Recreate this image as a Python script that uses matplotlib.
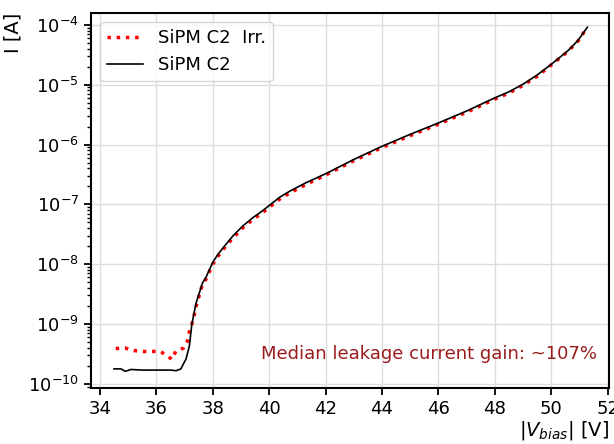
import matplotlib
matplotlib.use("Agg")
import matplotlib.pyplot as plt

# Black: SiPM C2
v_c2 = [34.5, 34.75, 34.9, 35.1, 35.5, 36.1, 36.5, 36.7, 36.87, 37.0, 37.05, 37.17,
        37.26, 37.41, 37.64, 37.76, 38.0, 38.18, 38.36, 38.71, 39.07, 39.43, 39.73, 40.0,
        40.38, 40.73, 41.3, 42.0, 43.0, 44.0, 45.0, 46.0, 47.0, 48.0, 48.5, 49.0,
        49.5, 50.0, 50.6, 50.95, 51.28]
i_c2 = [1.78e-10, 1.78e-10, 1.62e-10, 1.74e-10, 1.70e-10, 1.70e-10, 1.70e-10, 1.66e-10,
        1.78e-10, 2.34e-10, 2.57e-10, 4.27e-10, 1.0e-9, 2.24e-9, 4.9e-9, 6.03e-9, 1.07e-8,
        1.45e-8, 1.86e-8, 2.95e-8, 4.37e-8, 6.03e-8, 7.59e-8, 9.55e-8, 1.32e-7, 1.66e-7,
        2.29e-7, 3.24e-7, 5.62e-7, 9.33e-7, 1.48e-6, 2.29e-6, 3.63e-6, 6.03e-6, 7.59e-6,
        1.02e-5, 1.45e-5, 2.19e-5, 3.72e-5, 5.50e-5, 9.12e-5]

# Red: SiPM C2 Irr.
v_irr = [34.56, 34.89, 35.17, 35.48, 35.8, 36.12, 36.36, 36.55, 36.69, 36.97, 37.1, 37.17,
         37.26, 37.35, 37.43, 37.64, 37.76, 38.0, 38.18, 38.36, 38.71, 39.07, 39.43, 39.73,
         40.0, 40.38, 40.73, 41.3, 42.0, 43.0, 44.0, 45.0, 46.0, 47.0, 48.0, 48.5, 49.0,
         49.5, 50.0, 50.6, 50.95, 51.28]
i_irr = [3.89e-10, 3.98e-10, 3.63e-10, 3.47e-10, 3.47e-10, 3.51e-10, 3.02e-10, 2.57e-10,
         3.51e-10, 3.98e-10, 5.13e-10, 7.41e-10, 1.0e-9, 1.45e-9, 2.14e-9, 4.68e-9, 5.62e-9,
         1.0e-8, 1.35e-8, 1.74e-8, 2.75e-8, 4.07e-8, 5.62e-8, 7.08e-8, 8.91e-8, 1.23e-7,
         1.55e-7, 2.14e-7, 3.09e-7, 5.37e-7, 8.91e-7, 1.41e-6, 2.19e-6, 3.47e-6, 5.75e-6,
         7.24e-6, 9.77e-6, 1.38e-5, 2.14e-5, 3.63e-5, 5.37e-5, 9.12e-5]

x_ticks = [34, 36, 38, 40, 42, 44, 46, 48, 50, 52]

fig = plt.figure(figsize=(6.14, 4.44), dpi=100)
ax = fig.add_axes([0.148, 0.126, 0.844, 0.845])

ax.plot(v_irr, i_irr, color="red", linestyle=":", linewidth=2.5, label="SiPM C2  Irr.")
ax.plot(v_c2, i_c2, color="black", linestyle="-", linewidth=1.2, label="SiPM C2")

ax.set_yscale("log")
ax.set_xlim(33.68, 52.05)
ax.set_ylim(10**-10.07, 10**-3.8)
ax.set_xticks(x_ticks)
ax.grid(True, which="major", color="#dddddd", linewidth=1.0)
ax.set_axisbelow(True)

for s in ax.spines.values():
    s.set_linewidth(1.5)
ax.tick_params(axis="both", which="major", labelsize=13, width=1.3, length=5)
ax.tick_params(axis="y", which="minor", width=1.0, length=3)

ax.set_ylabel("I [A]", loc="top", fontsize=14)
ax.set_xlabel(r"$|V_{bias}|$ [V]", loc="right", fontsize=14, labelpad=1)

ax.legend(loc="upper left", fontsize=13, framealpha=0.8)
ax.text(0.977, 0.09, "Median leakage current gain: ~107%", transform=ax.transAxes,
        ha="right", va="center", color="#9b1c1c", fontsize=13)

fig.savefig("out.png", dpi=100)
